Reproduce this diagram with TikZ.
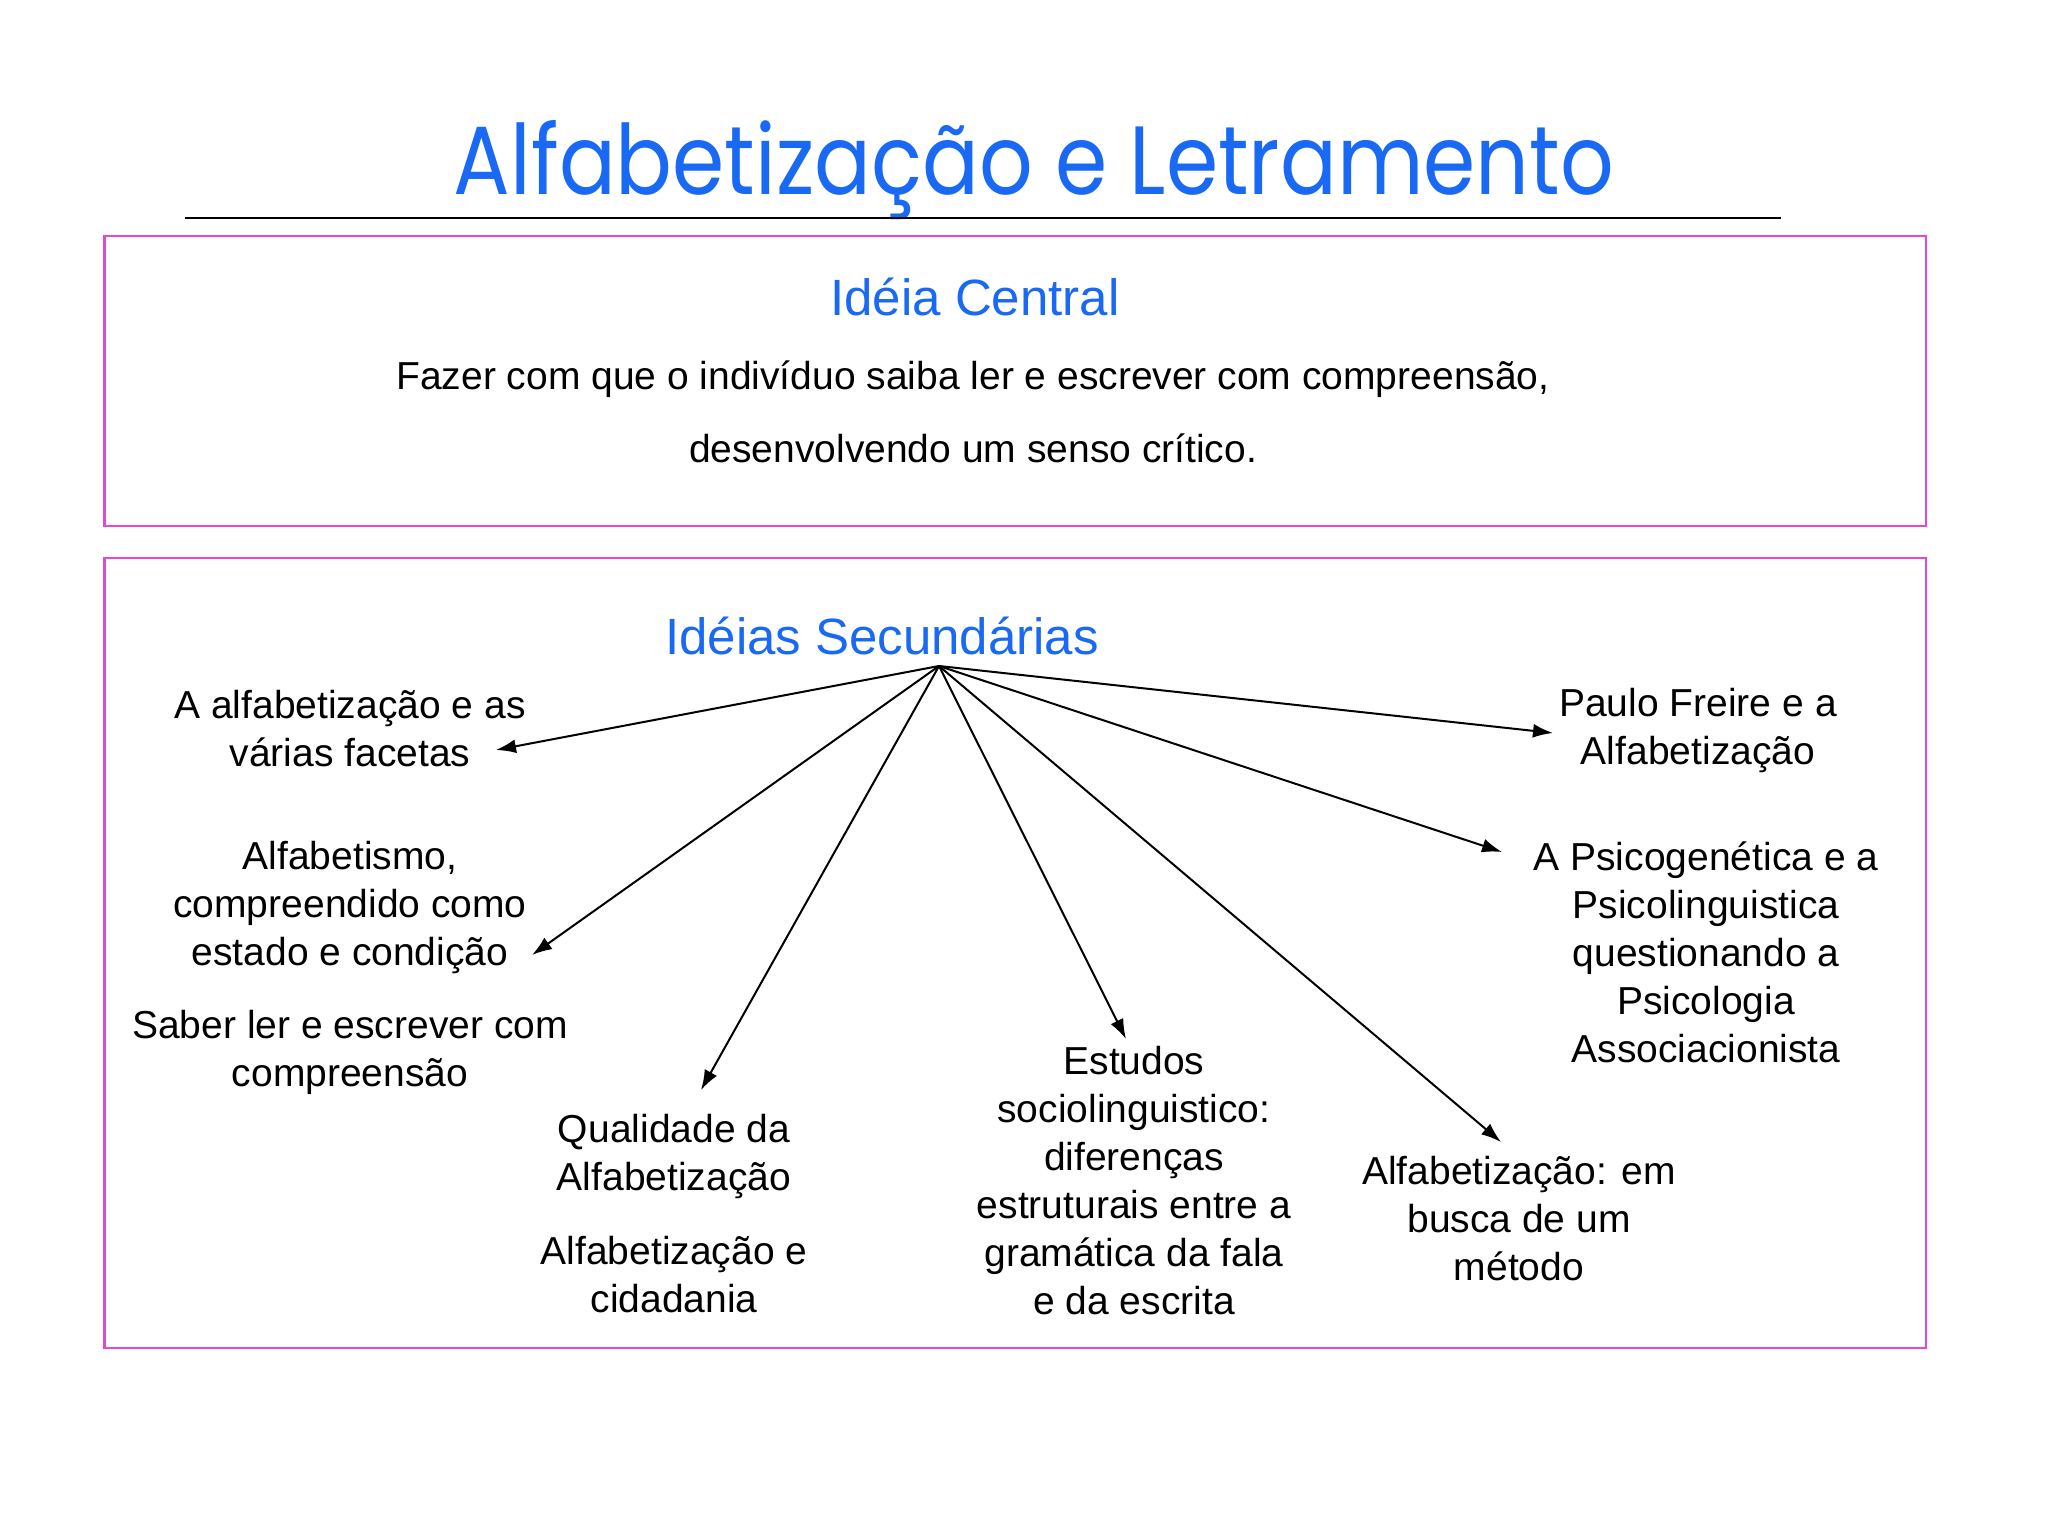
\documentclass[tikz,border=0pt]{standalone}
\usepackage{fontspec}
\setmainfont{Liberation Sans}
\newfontfamily\titlefont{Poppins}
\usetikzlibrary{arrows.meta}
\definecolor{tblue}{RGB}{25,105,245}
\definecolor{mag}{RGB}{228,72,208}
\begin{document}
\begin{tikzpicture}[x=1pt,y=-1pt,
  frame/.style={draw=mag,line width=2.5pt},
  heading/.style={text=tblue,font=\fontsize{51}{60}\selectfont,inner sep=0pt},
  body/.style={font=\fontsize{39}{73}\selectfont,align=center,inner sep=0pt},
  item/.style={font=\fontsize{39}{48}\selectfont,align=center,inner sep=0pt},
  link/.style={line width=2pt,-{Latex[length=20pt,width=14pt]}}]
\useasboundingbox (0,0) rectangle (2048,1536);
\fill[white] (0,0) rectangle (2048,1536);
% title
\node[text=tblue,inner sep=0pt] (title) at (1034,170)
  {\resizebox{1160pt}{\height}{\titlefont\fontsize{97}{110}\selectfont Alfabetização e Letramento}};
\coordinate (rl) at (185,218);
\coordinate (rr) at (1781,218);
\draw[line width=2.5pt] (rl) -- (rr);
% boxes
\draw[frame] (104.5,236) rectangle (1926,526);
\draw[frame] (104.5,558) rectangle (1926,1348);
% central idea
\node[heading] (central) at (975,297) {Idéia Central};
\node[body] (centraltext) at (973,412)
  {Fazer com que o indivíduo saiba ler e escrever com compreensão,\\desenvolvendo um senso crítico.};
% secondary ideas
\node[heading] (sec) at (882,636) {Idéias Secundárias};
\coordinate (hub) at (939,666);
\node[item] (i1) at (350,729) {A alfabetização e as\\várias facetas};
\node[item] (i2) at (350,907) {Alfabetismo,\\compreendido como\\estado e condição};
\node[item] (i3) at (350,1052) {Saber ler e escrever com\\compreensão};
\node[item] (i4) at (674,1156) {Qualidade da\\Alfabetização};
\node[item] (i5) at (674,1275) {Alfabetização e\\cidadania};
\node[item] (i6) at (1134,1181) {Estudos\\sociolinguistico:\\diferenças\\estruturais entre a\\gramática da fala\\e da escrita};
\node[item] (i7) at (1519,1219) {Alfabetização: em\\busca de um\\método};
\node[item] (i8) at (1706,952) {A Psicogenética e a\\Psicolinguistica\\questionando a\\Psicologia\\Associacionista};
\node[item] (i9) at (1698,730) {Paulo Freire e a\\Alfabetização};
% arrow tips
\coordinate (t1) at (496,750);
\coordinate (t2) at (532,955);
\coordinate (t4) at (701,1090);
\coordinate (t6) at (1126,1039);
\coordinate (t7) at (1501,1142);
\coordinate (t8) at (1502,852);
\coordinate (t9) at (1553,733);
\foreach \t in {t1,t2,t4,t6,t7,t8,t9} \draw[link] (hub) -- (\t);
\end{tikzpicture}
\end{document}
